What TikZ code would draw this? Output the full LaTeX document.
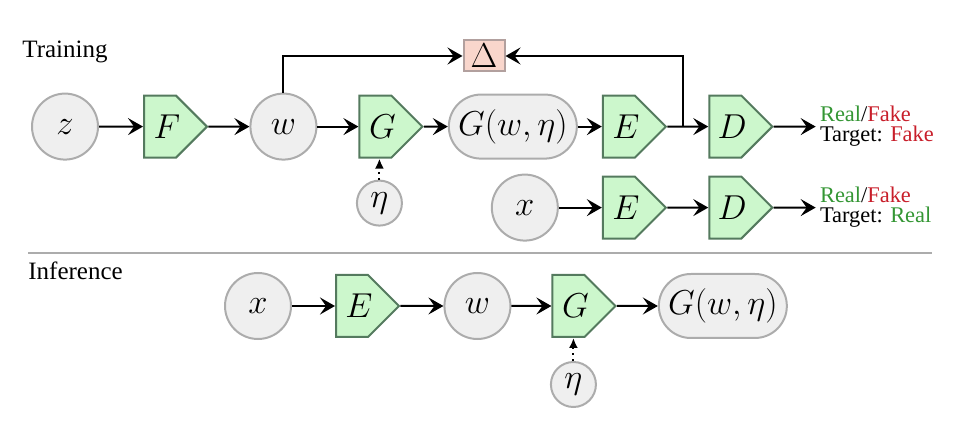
\documentclass[tikz,border=0pt]{standalone}
\usepackage{fontspec}
\setmainfont{Liberation Serif}
\usetikzlibrary{arrows.meta,positioning,shapes.symbols}

\definecolor{varfill}{RGB}{239,239,239}
\definecolor{vardraw}{RGB}{172,172,172}
\definecolor{netfill}{RGB}{204,247,204}
\definecolor{netdraw}{RGB}{84,122,94}
\definecolor{lossfill}{RGB}{249,214,204}
\definecolor{lossdraw}{RGB}{178,160,158}
\definecolor{realcol}{RGB}{52,150,52}
\definecolor{fakecol}{RGB}{200,30,42}

\begin{document}
\begin{tikzpicture}[>={Stealth[length=7.5pt,width=8.5pt,inset=3pt]},
latentvar/.style={circle,draw=vardraw,fill=varfill,line width=1pt,inner sep=0pt,minimum size=33pt,font=\fontsize{18}{21}\selectfont},
noisevar/.style={circle,draw=vardraw,fill=varfill,line width=1pt,inner sep=0pt,minimum size=22.5pt,font=\fontsize{18}{21}\selectfont},
imagevar/.style={rectangle,rounded corners=16pt,draw=vardraw,fill=varfill,line width=1pt,inner sep=0pt,minimum width=64pt,minimum height=32pt,font=\fontsize{18}{21}\selectfont},
network/.style={signal,signal to=east,signal pointer angle=90,draw=netdraw,fill=netfill,line width=1pt,inner sep=0pt,minimum width=31pt,minimum height=31pt,text width=16pt,align=center,execute at end node={\kern-7pt},font=\fontsize{18}{21}\selectfont},
lossbox/.style={rectangle,draw=lossdraw,fill=lossfill,line width=1pt,inner sep=0pt,minimum width=20.5pt,minimum height=15.5pt,font=\fontsize{17}{20}\selectfont},
verdict/.style={anchor=west,align=left,inner sep=2pt,font=\fontsize{11.2}{10}\selectfont},
heading/.style={anchor=base west,inner sep=0pt,font=\fontsize{12.5}{15}\selectfont},
paths/.style={->,line width=1pt},
noisepath/.style={->,dotted,line width=1pt,>={Latex[length=5pt,width=4.5pt]}}
]
\useasboundingbox (0,0) rectangle (486pt,-213pt);

%% Nodes   %%%%%%%%%%%%%%%%%%%%%%%%%%%%%%%%%%%%%%%%%%%%%%%%%%%%%%%%%%%%%%%%%%%%%%%

%% Training, generated branch
\node [latentvar] (Z)   at (32.5pt,-63.3pt)      {$z$};
\node [network]   (F)   [right =22pt of Z]       {$F$};
\node [latentvar] (W)   [right =20.5pt of F]     {$w$};
\node [network]   (G)   [right =20.5pt of W]     {$G$};
\node [imagevar]  (GW)  [right =12pt of G]       {$G(w,\eta)$};
\node [network]   (E)   [right =12pt of GW]      {$E$};
\node [network]   (D)   [right =20.5pt of E]     {$D$};
\node [verdict]   (OUT) [right =21pt of D]       {\textcolor{realcol}{Real}/\textcolor{fakecol}{Fake}\\Target: \textcolor{fakecol}{Fake}};
\node [noisevar]  (ETA) [below =10.5pt of G, xshift=2pt] {$\eta$};
\node [lossbox]   (DEL) at (242pt,-28pt)         {$\Delta$};
\coordinate [right =8pt of E.east] (J);

%% Training, real branch
\node [network]   (ER)   [below =8.5pt of E]     {$E$};
\node [network]   (DR)   [below =8.5pt of D]     {$D$};
\node [latentvar] (XR)   [left  =21.5pt of ER]   {$x$};
\node [verdict]   (OUTR) [right =21pt of DR]     {\textcolor{realcol}{Real}/\textcolor{fakecol}{Fake}\\Target: \textcolor{realcol}{Real}};

%% Inference
\node [latentvar] (XI)   at (129pt,-153pt)       {$x$};
\node [network]   (EI)   [right =21.5pt of XI]   {$E$};
\node [latentvar] (WI)   [right =21.5pt of EI]   {$w$};
\node [network]   (GI)   [right =20pt of WI]     {$G$};
\node [imagevar]  (GWI)  [right =20.5pt of GI]   {$G(w,\eta)$};
\node [noisevar]  (ETAI) [below =11.5pt of GI, xshift=2.5pt] {$\eta$};

%% Pfade %%%%%%%%%%%%%%%%%%%%%%%%%%%%%%%%%%%%%%%%%%%%%%%%%%%%%%%%%%%%%%%%%%%%%%%%%%%

\draw [paths] (Z)  to (F);
\draw [paths] (F)  to (W);
\draw [paths] (W)  to (G);
\draw [paths] (G)  to (GW);
\draw [paths] (GW) to (E);
\draw [paths] (E)  to (D);
\draw [paths] (D)  to (OUT);
\draw [noisepath] (ETA.north) to (ETA.north |- G.south);
\draw [paths] (W.north) |- (DEL.west);
\draw [paths] (J) |- (DEL.east);

\draw [paths] (XR) to (ER);
\draw [paths] (ER) to (DR);
\draw [paths] (DR) to (OUTR);

\draw [paths] (XI) to (EI);
\draw [paths] (EI) to (WI);
\draw [paths] (WI) to (GI);
\draw [paths] (GI) to (GWI);
\draw [noisepath] (ETAI.north) to (ETAI.north |- GI.south);

%% Level-Lines & Text %%%%%%%%%%%%%%%%%%%%%%%%%%%%%%%%%%%%%%%%%%%%%%%%%%%%%%%%%%%%%%%
\draw [vardraw, line width=1pt] (14pt,-126.5pt) coordinate (SL) -- (466pt,-126.5pt) coordinate (SR);

\node [heading] (TRAIN) at (11pt,-29pt)  {Training};
\node [heading] (INFER) at (14pt,-140pt) {Inference};

\end{tikzpicture}
\end{document}
